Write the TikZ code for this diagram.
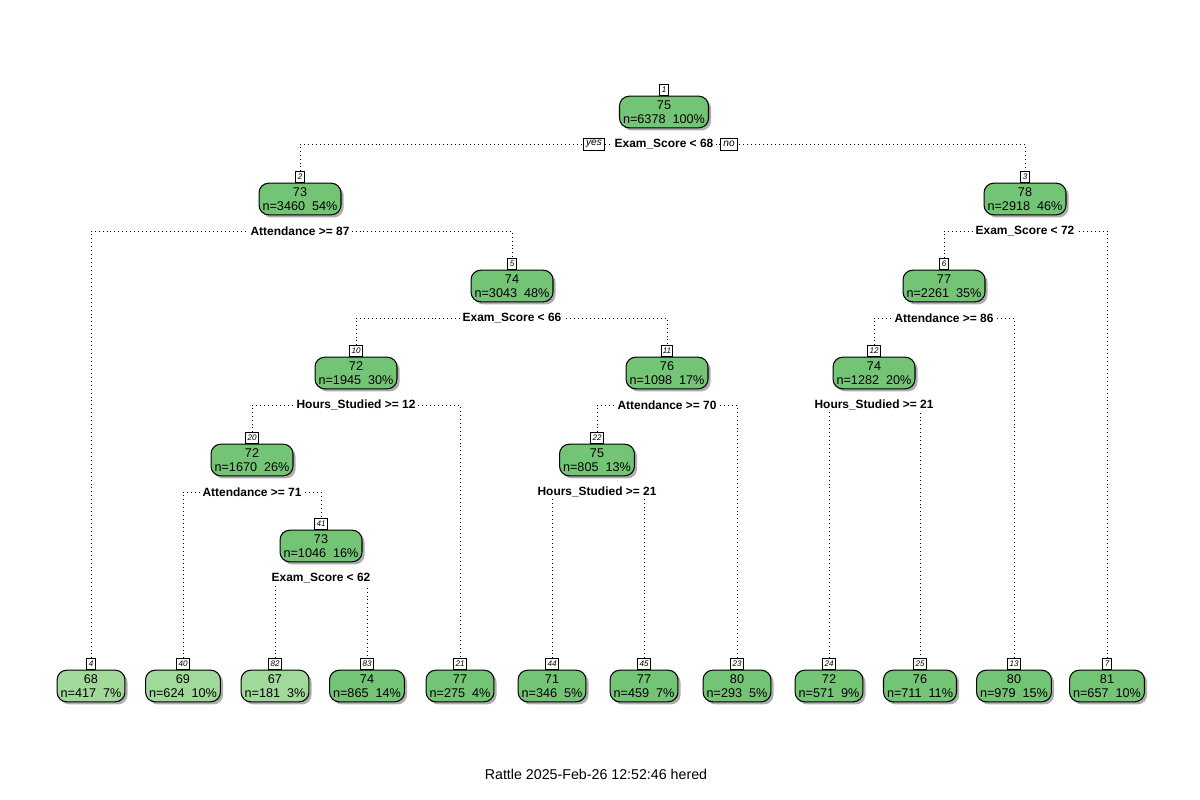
\documentclass[tikz,border=0pt]{standalone}
\usepackage{fontspec}
\setmainfont{Liberation Sans}
\usetikzlibrary{shadows}
\pgfdeclarelayer{bg}
\pgfdeclarelayer{paper}
\pgfsetlayers{paper,bg,main}
\definecolor{dk}{HTML}{74C476}
\definecolor{lt}{HTML}{A1D99B}
\tikzset{
  tn/.style={rounded corners=5.5pt, draw=black, line width=0.6pt, fill=dk,
    minimum height=18pt, inner xsep=2pt, inner ysep=1pt, align=center,
    font=\fontsize{7.2}{7.8}\selectfont,
    drop shadow={shadow xshift=1.5pt, shadow yshift=-1.5pt, fill=black!40, opacity=0.8}},
  tl/.style={tn, fill=lt},
  nb/.style={draw, fill=white, line width=0.5pt, minimum height=6pt, minimum width=5.4pt,
    inner xsep=0.9pt, inner ysep=0.3pt, font=\fontsize{4.6}{5}\selectfont\itshape, anchor=south},
  sp/.style={fill=white, inner xsep=1.5pt, inner ysep=1pt, font=\bfseries\fontsize{6.8}{8}\selectfont},
  yn/.style={draw, fill=white, line width=0.5pt, font=\itshape\fontsize{5.8}{6}\selectfont,
    inner xsep=1.5pt, inner ysep=1pt, minimum height=6.8pt},
  br/.style={line width=0.45pt, dash pattern=on 0.45pt off 1.8pt},
  foot/.style={font=\fontsize{8.1}{9}\selectfont}
}
\newcommand{\TN}[6]{%
  \node[#2] (n#1) at (#3,#4) {#5\\#6};
  \node[nb] (l#1) at (n#1.north) {#1};
}
\begin{document}
\begin{tikzpicture}[x=0.02cm, y=-0.02cm]
\begin{pgfonlayer}{paper}
\fill[white] (0,0) rectangle (1200,800);
\end{pgfonlayer}
\useasboundingbox (0,0) rectangle (1200,800);
% internal nodes
\TN{1}{tn}{664}{112}{75}{n=6378~~100\%}
\TN{2}{tn}{300}{199}{73}{n=3460~~54\%}
\TN{3}{tn}{1025}{199}{78}{n=2918~~46\%}
\TN{5}{tn}{512}{286}{74}{n=3043~~48\%}
\TN{6}{tn}{944}{286}{77}{n=2261~~35\%}
\TN{10}{tn}{356}{373}{72}{n=1945~~30\%}
\TN{11}{tn}{667}{373}{76}{n=1098~~17\%}
\TN{12}{tn}{874}{373}{74}{n=1282~~20\%}
\TN{20}{tn}{252}{460}{72}{n=1670~~26\%}
\TN{22}{tn}{597}{460}{75}{n=805~~13\%}
\TN{41}{tn}{321}{546}{73}{n=1046~~16\%}
% leaves
\TN{4}{tl}{91}{686}{68}{n=417~~7\%}
\TN{40}{tl}{183}{686}{69}{n=624~~10\%}
\TN{82}{tl}{275}{686}{67}{n=181~~3\%}
\TN{83}{tn}{367}{686}{74}{n=865~~14\%}
\TN{21}{tn}{460}{686}{77}{n=275~~4\%}
\TN{44}{tn}{552}{686}{71}{n=346~~5\%}
\TN{45}{tn}{644}{686}{77}{n=459~~7\%}
\TN{23}{tn}{737}{686}{80}{n=293~~5\%}
\TN{24}{tn}{829}{686}{72}{n=571~~9\%}
\TN{25}{tn}{920}{686}{76}{n=711~~11\%}
\TN{13}{tn}{1014}{686}{80}{n=979~~15\%}
\TN{7}{tn}{1107}{686}{81}{n=657~~10\%}
% split labels
\node[sp] (s1) at (664,144) {Exam\_Score < 68};
\node[sp] (s2) at (300,231) {Attendance >= 87};
\node[sp] (s3) at (1025,231) {Exam\_Score < 72};
\node[sp] (s5) at (512,318) {Exam\_Score < 66};
\node[sp] (s6) at (944,318) {Attendance >= 86};
\node[sp] (s10) at (356,405) {Hours\_Studied >= 12};
\node[sp] (s11) at (667,405) {Attendance >= 70};
\node[sp] (s12) at (874,405) {Hours\_Studied >= 21};
\node[sp] (s20) at (252,492) {Attendance >= 71};
\node[sp] (s22) at (597,492) {Hours\_Studied >= 21};
\node[sp] (s41) at (321,578) {Exam\_Score < 62};
\node[yn] (yes) at (594,144) {yes};
\node[yn] (no) at (729,144) {no};
% branches
\begin{pgfonlayer}{bg}
\draw[br] (l2.north) |- (s1.center) -| (l3.north);
\draw[br] (l4.north) |- (s2.center) -| (l5.north);
\draw[br] (l6.north) |- (s3.center) -| (l7.north);
\draw[br] (l10.north) |- (s5.center) -| (l11.north);
\draw[br] (l12.north) |- (s6.center) -| (l13.north);
\draw[br] (l20.north) |- (s10.center) -| (l21.north);
\draw[br] (l22.north) |- (s11.center) -| (l23.north);
\draw[br] (l24.north) |- (s12.center) -| (l25.north);
\draw[br] (l40.north) |- (s20.center) -| (l41.north);
\draw[br] (l44.north) |- (s22.center) -| (l45.north);
\draw[br] (l82.north) |- (s41.center) -| (l83.north);
\end{pgfonlayer}
\node[foot] (ft) at (596,774) {Rattle 2025-Feb-26 12:52:46 hered};
\end{tikzpicture}
\end{document}
